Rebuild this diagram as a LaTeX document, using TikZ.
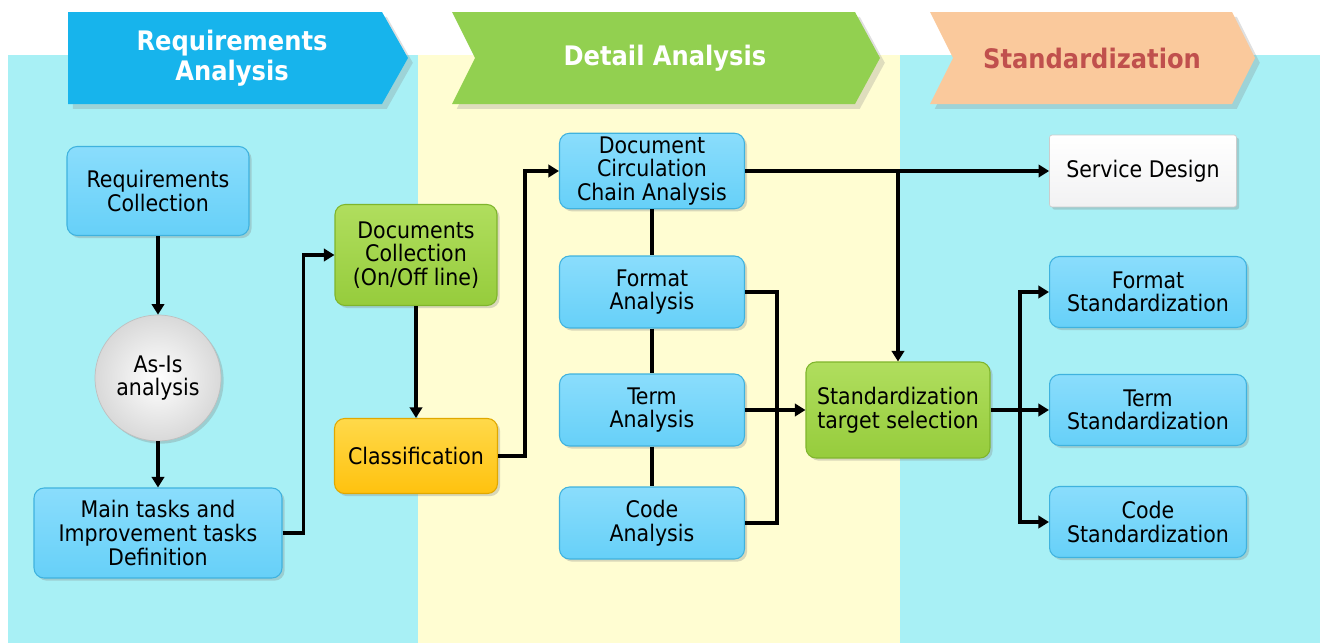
\documentclass[tikz,border=0pt]{standalone}
\usepackage{fontspec}
\setmainfont{DejaVu Sans Condensed}
\usetikzlibrary{arrows.meta,shadows}

\definecolor{bgcyan}{HTML}{A8F0F5}
\definecolor{bgyellow}{HTML}{FFFDD2}
\definecolor{hdblue}{HTML}{17B4EC}
\definecolor{hdgreen}{HTML}{92D050}
\definecolor{hdpeach}{HTML}{FAC99C}
\definecolor{hdred}{HTML}{C0504D}
\definecolor{boxblue}{HTML}{66D0F8}
\definecolor{boxbluetop}{HTML}{8ADDFC}
\definecolor{boxblueline}{HTML}{3FB2DE}
\definecolor{boxgreen}{HTML}{96CC3C}
\definecolor{boxgreentop}{HTML}{B0DE5E}
\definecolor{boxgreenline}{HTML}{7FB52C}
\definecolor{boxyellow}{HTML}{FFC20E}
\definecolor{boxyellowtop}{HTML}{FFD94A}
\definecolor{boxyellowline}{HTML}{E0A800}

\begin{document}
\begin{tikzpicture}[x=0.02cm,y=-0.02cm,
  body/.style={font=\fontsize{13}{13.4}\selectfont, align=center, text=black},
  box/.style={body, rounded corners=0.2cm, line width=0.6pt, inner sep=2pt,
    draw=boxblueline, top color=boxbluetop, bottom color=boxblue,
    drop shadow={shadow xshift=1.5pt, shadow yshift=-1.5pt, opacity=0.3}},
  greenbox/.style={box, draw=boxgreenline, top color=boxgreentop, bottom color=boxgreen},
  yellowbox/.style={box, draw=boxyellowline, top color=boxyellowtop, bottom color=boxyellow},
  hdtext/.style={font=\fontsize{15.3}{17}\selectfont\bfseries, align=center},
  conn/.style={line width=2pt, -{Triangle[length=6pt,width=7pt]}},
  link/.style={line width=2pt}]

\useasboundingbox (0,0) rectangle (1323,643);

% backgrounds
\fill[bgcyan] (8,55) rectangle (418,643);
\fill[bgyellow] (418,55) rectangle (900,643);
\fill[bgcyan] (900,55) rectangle (1320,643);

% phase headers
\fill[hdblue, drop shadow={opacity=0.25}] (68,12) -- (382,12) -- (408,58) -- (382,104) -- (68,104) -- cycle;
\fill[hdgreen, drop shadow={opacity=0.25}] (452,12) -- (855,12) -- (880,58) -- (855,104) -- (452,104) -- (475,58) -- cycle;
\fill[hdpeach, drop shadow={opacity=0.25}] (930,12) -- (1232,12) -- (1255,58) -- (1232,104) -- (930,104) -- (953,58) -- cycle;
\node[hdtext, text=white] (hreq) at (232,58) {Requirements\\Analysis};
\node[hdtext, text=white] (hdet) at (665,58) {Detail Analysis};
\node[hdtext, text=hdred] (hstd) at (1092,58) {Standardization};

% requirements analysis
\node[box, minimum width=3.64cm, minimum height=1.78cm] (rc) at (158,191) {Requirements\\Collection};
\node[body, circle, minimum size=2.52cm, inner sep=0pt, draw=gray!50, line width=0.4pt,
  inner color=white, outer color=gray!30,
  drop shadow={shadow xshift=1.5pt, shadow yshift=-1.5pt, opacity=0.3}] (asis) at (158,378) {As-Is\\analysis};
\node[box, minimum width=4.96cm, minimum height=1.8cm] (mt) at (158,533) {Main tasks and\\Improvement tasks\\Definition};
\node[greenbox, minimum width=3.24cm, minimum height=2.02cm] (dc) at (416,255) {Documents\\Collection\\(On/Off line)};
\node[yellowbox, minimum width=3.26cm, minimum height=1.5cm] (cl) at (416,456) {Classification};

% detail analysis
\node[box, minimum width=3.7cm, minimum height=1.44cm] (dcca) at (652,171) {Document\\Circulation\\Chain Analysis};
\node[box, minimum width=3.7cm, minimum height=1.44cm] (fa) at (652,292) {Format\\Analysis};
\node[box, minimum width=3.7cm, minimum height=1.44cm] (ta) at (652,410) {Term\\Analysis};
\node[box, minimum width=3.7cm, minimum height=1.44cm] (ca) at (652,523) {Code\\Analysis};
\node[greenbox, minimum width=3.68cm, minimum height=1.92cm] (st) at (898,410) {Standardization\\target selection};

% standardization
\node[body, rounded corners=0.05cm, minimum width=3.74cm, minimum height=1.44cm, draw=gray!40, line width=0.4pt,
  top color=white, bottom color=blue!4!gray!10,
  drop shadow={shadow xshift=1.5pt, shadow yshift=-1.5pt, opacity=0.3}] (sd) at (1143,171) {Service Design};
\node[box, minimum width=3.94cm, minimum height=1.42cm] (fs) at (1148,292) {Format\\Standardization};
\node[box, minimum width=3.94cm, minimum height=1.42cm] (ts) at (1148,410) {Term\\Standardization};
\node[box, minimum width=3.94cm, minimum height=1.42cm] (cs) at (1148,522) {Code\\Standardization};

% connectors
\draw[conn] (rc) -- (asis);
\draw[conn] (asis) -- (mt);
\draw[conn] (mt.east) -- ++(21,0) |- (dc.west);
\draw[conn] (dc) -- (cl);
\draw[conn] (cl.east) -- ++(27,0) |- (dcca.west);
\draw[link] (dcca) -- (fa) -- (ta) -- (ca);
\draw[conn] (dcca) -- (sd);
\draw[conn] (dcca.east -| st.north) -- (st.north);
\draw[link] (fa.east) -- ++(32,0) |- (ca.east);
\draw[conn] (ta) -- (st);
\coordinate (split) at (1020,410);
\draw[link] (st) -- (split);
\draw[conn] (split) |- (fs.west);
\draw[conn] (split) -- (ts);
\draw[conn] (split) |- (cs.west);

\end{tikzpicture}
\end{document}
